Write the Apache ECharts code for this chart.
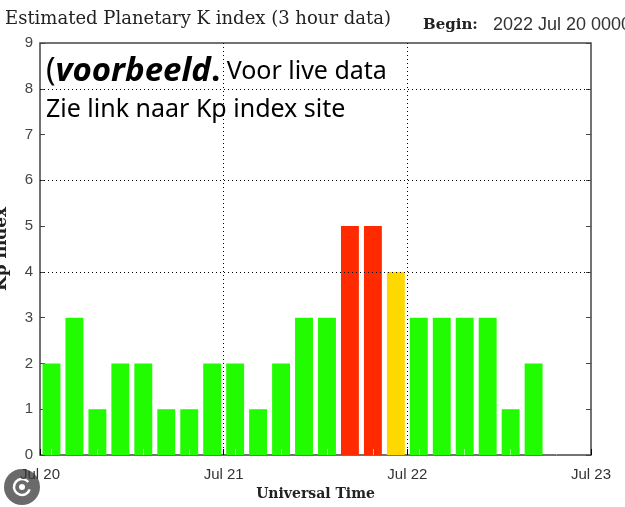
<!DOCTYPE html>
<html>
<head>
<meta charset="utf-8">
<script src="https://cdn.jsdelivr.net/npm/echarts@6/dist/echarts.min.js"></script>
<style>
  html, body { margin: 0; padding: 0; background: #fff; }
  #chart { width: 625px; height: 507px; }
</style>
</head>
<body>
<div id="chart"></div>
<script>
// 3-hour slots, Jul 20 00 UT .. Jul 22 21 UT
const slots = [
  '20 00', '20 03', '20 06', '20 09', '20 12', '20 15', '20 18', '20 21',
  '21 00', '21 03', '21 06', '21 09', '21 12', '21 15', '21 18', '21 21',
  '22 00', '22 03', '22 06', '22 09', '22 12', '22 15', '22 18', '22 21'
]
const kp = [
  2, 3, 1, 2, 2, 1, 1, 2,
  2, 1, 2, 3, 3, 5, 5, 4,
  3, 3, 3, 3, 1, 2, null, null
]
const dayLabels = ['Jul 20', 'Jul 21', 'Jul 22', 'Jul 23']
const dottedLevels = [4, 6, 8]

const GREEN = '#22fc00', YELLOW = '#ffd800', RED = '#ff2a00'
const kpColor = v => v >= 5 ? RED : (v >= 4 ? YELLOW : GREEN)

const chart = echarts.init(document.getElementById('chart'))
chart.setOption({
  animation: false,
  grid: {
    left: 40, right: 34, top: 43, bottom: 52, outerBoundsMode: 'none', containLabel: false,
    show: true, borderColor: '#444', borderWidth: 1.5, backgroundColor: '#fff'
  },
  xAxis: [
    {
      type: 'category', data: slots, z: 3,
      axisLine: { show: false },
      axisLabel: { show: false },
      axisTick: { show: true, inside: true, alignWithLabel: true, length: 6, lineStyle: { color: 'rgba(255,255,255,0.55)' } },
      splitLine: { show: false }
    },
    {
      type: 'value', min: 0, max: 3, interval: 1, position: 'bottom',
      axisLine: { show: false },
      axisTick: { show: true, inside: true, length: 6, lineStyle: { color: '#000' } },
      axisLabel: {
        margin: 12, fontFamily: 'Liberation Sans', fontSize: 15, color: '#333',
        formatter: v => dayLabels[v] || ''
      },
      splitLine: { show: true, showMinLine: false, showMaxLine: false, lineStyle: { color: '#000', type: [1, 3], width: 1 } },
      name: 'Universal Time', nameLocation: 'middle', nameGap: 30,
      nameTextStyle: { fontFamily: 'DejaVu Serif', fontWeight: 'bold', fontSize: 14, color: '#222' }
    }
  ],
  yAxis: [
    {
      type: 'value', min: 0, max: 9, interval: 1,
      axisLine: { show: false },
      axisTick: { show: true, inside: true, length: 5, lineStyle: { color: '#444' } },
      axisLabel: { margin: 7, fontFamily: 'Liberation Sans', fontSize: 15, color: '#444' },
      splitLine: { show: false },
      name: 'Kp index', nameLocation: 'middle', nameRotate: 90, nameGap: 30,
      nameTextStyle: { fontFamily: 'DejaVu Serif', fontWeight: 'bold', fontSize: 17, color: '#222' }
    },
    {
      type: 'value', min: 0, max: 9, interval: 1, position: 'right',
      axisLine: { show: false },
      axisTick: { show: true, inside: true, length: 5, lineStyle: { color: '#444' } },
      axisLabel: { show: false },
      splitLine: { show: false }
    }
  ],
  series: [{
    type: 'bar', xAxisIndex: 0, yAxisIndex: 0,
    barCategoryGap: '22%',
    data: kp.map(v => v == null ? null : { value: v, itemStyle: { color: kpColor(v) } }),
    markLine: {
      silent: true, symbol: 'none', label: { show: false },
      lineStyle: { color: '#000', type: [1, 3], width: 1 },
      data: dottedLevels.map(y => ({ yAxis: y }))
    }
  }],
  graphic: [
    {
      type: 'text', left: 5, top: 10,
      style: { text: 'Estimated Planetary K index (3 hour data)', font: '18px "DejaVu Serif"', fill: '#222' }
    },
    {
      type: 'text', left: 423, top: 18,
      style: { text: 'Begin:', font: 'bold 15px "DejaVu Serif"', fill: '#222' }
    },
    {
      type: 'text', left: 493, top: 16,
      style: { text: '2022 Jul 20 0000', font: '18px "Liberation Sans"', fill: '#333' }
    },
    {
      type: 'text', left: 46, top: 53,
      style: {
        text: '{p|(}{b|voorbeeld}{d|.}{n| Voor live data}\n{n|Zie link naar Kp index site}',
        lineHeight: 38,
        rich: {
          p: { fontFamily: 'Noto Sans', fontSize: 32, fill: '#000', lineHeight: 38 },
          b: { fontFamily: 'Noto Sans', fontSize: 33, fontWeight: 'bold', fontStyle: 'italic', fill: '#000', lineHeight: 38 },
          d: { fontFamily: 'Noto Sans', fontSize: 33, fontWeight: 'bold', fill: '#000', lineHeight: 38 },
          n: { fontFamily: 'Noto Sans', fontSize: 25, fill: '#000', lineHeight: 38 }
        }
      }
    },
    {
      type: 'group', left: 4, top: 469,
      children: [
        { type: 'circle', shape: { cx: 18, cy: 18, r: 18 }, style: { fill: '#6a6a6a' } },
        { type: 'arc', shape: { cx: 18, cy: 18, r: 8, startAngle: 0.3, endAngle: 5.6 }, style: { stroke: '#fff', lineWidth: 2.5, fill: 'none' } },
        { type: 'circle', shape: { cx: 18, cy: 18, r: 3 }, style: { fill: '#fff' } }
      ]
    }
  ]
})
window.addEventListener('resize', () => chart.resize())
</script>
</body>
</html>
